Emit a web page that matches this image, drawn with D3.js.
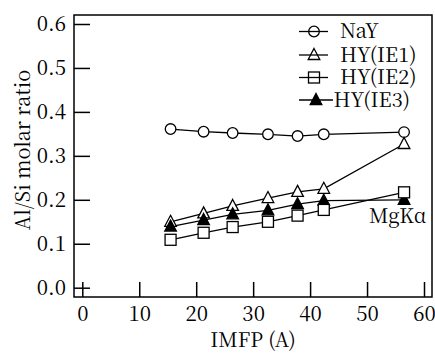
<!DOCTYPE html>
<html><head><meta charset="utf-8">
<script src="https://cdn.jsdelivr.net/npm/d3@7"></script>
<style>body{margin:0;background:#fff}svg{display:block}</style>
</head><body><svg id="c" width="435" height="354"></svg>
<script>
const imfp = [15.5, 21.3, 26.4, 32.6, 37.8, 42.4, 56.5];
const nay  = [0.361, 0.355, 0.352, 0.349, 0.345, 0.349, 0.354];
const ie1  = [0.150, 0.169, 0.186, 0.204, 0.218, 0.225, 0.327];
const ie2  = [0.109, 0.125, 0.138, 0.150, 0.164, 0.177, 0.217];
const ie3  = [0.139, 0.154, 0.167, 0.176, 0.190, 0.198, 0.200];
const seriesNames = ["NaY", "HY(IE1)", "HY(IE2)", "HY(IE3)"];
const xTicks = [0, 10, 20, 30, 40, 50, 60];
const yTicks = [0.0, 0.1, 0.2, 0.3, 0.4, 0.5, 0.6];

const FONT = "'Noto Serif CJK SC', 'Liberation Serif', serif";
const FS = 20, TFS = 20.5;
const svg = d3.select("#c").attr("font-family", FONT);
const L = 74, R = 432, T = 15, B = 297;
const x = d3.scaleLinear().domain([0, 60]).range([82.3, 424]);
const y = d3.scaleLinear().domain([0, 0.6]).range([287.7, 24]);

// frame
svg.append("rect").attr("x", L).attr("y", T).attr("width", R - L).attr("height", B - T)
  .attr("fill", "none").attr("stroke", "#000").attr("stroke-width", 1.5);

// axes (inward ticks)
const xAxis = d3.axisBottom(x).tickValues(xTicks).tickSize(-15).tickPadding(26).tickFormat(d3.format("d"));
const gx = svg.append("g").attr("transform", `translate(0,${B})`).call(xAxis);
gx.attr("font-family", FONT);
gx.select(".domain").remove();
gx.selectAll("line").attr("stroke", "#000").attr("stroke-width", 1.5);
gx.selectAll("text").attr("font-size", TFS).attr("dy", 0).attr("y", 24).attr("fill", "#000");

const yAxis = d3.axisLeft(y).tickValues(yTicks).tickSize(-16).tickPadding(9).tickFormat(d3.format(".1f"));
const gy = svg.append("g").attr("transform", `translate(${L},0)`).call(yAxis);
gy.attr("font-family", FONT);
gy.select(".domain").remove();
gy.selectAll("line").attr("stroke", "#000").attr("stroke-width", 1.5);
gy.selectAll("text").attr("font-size", TFS).attr("x", -8).attr("dy", "0.34em").attr("fill", "#000");

// axis titles
svg.append("text").attr("x", 253).attr("y", 347).attr("text-anchor", "middle").attr("font-size", FS).text("IMFP (A)");
svg.append("text").attr("transform", "translate(30,150) rotate(-90)").attr("text-anchor", "middle").attr("font-size", FS).text("Al/Si molar ratio");

const line = d3.line().x(d => x(d[0])).y(d => y(d[1]));
const data = [nay, ie1, ie2, ie3].map(v => imfp.map((xv, i) => [xv, v[i]]));
const types = ["circle", "tri", "square", "ftri"];

function marker(g, type, cx, cy, fillBg) {
  const bg = fillBg ? "#fff" : "none";
  if (type === "circle") {
    g.append("circle").attr("cx", cx).attr("cy", cy).attr("r", 5.3).attr("fill", bg).attr("stroke", "#000").attr("stroke-width", 1.3);
  } else if (type === "square") {
    g.append("rect").attr("x", cx - 5.5).attr("y", cy - 5.5).attr("width", 11).attr("height", 11).attr("fill", bg).attr("stroke", "#000").attr("stroke-width", 1.3);
  } else {
    const p = [[cx, cy - 6.5], [cx + 5.8, cy + 4.5], [cx - 5.8, cy + 4.5]];
    g.append("path").attr("d", "M" + p.join("L") + "Z").attr("fill", type === "ftri" ? "#000" : bg).attr("stroke", "#000").attr("stroke-width", 1.3);
  }
}

const drawOrder = [0, 1, 3, 2];
drawOrder.forEach(k => {
  svg.append("path").datum(data[k]).attr("d", line).attr("fill", "none").attr("stroke", "#000").attr("stroke-width", 1.3);
});
drawOrder.forEach(k => {
  const g = svg.append("g");
  data[k].forEach(d => marker(g, types[k], x(d[0]), y(d[1]), true));
});

// legend
const legY = [31.5, 55, 77.5, 100];
seriesNames.forEach((name, i) => {
  const g = svg.append("g");
  const x1 = 299, x2 = i === 3 ? 333 : 328, mx = i === 3 ? 316 : 314;
  g.append("line").attr("x1", x1).attr("x2", x2).attr("y1", legY[i]).attr("y2", legY[i]).attr("stroke", "#000").attr("stroke-width", 1.3);
  marker(g, types[i], mx, legY[i], false);
  g.append("text").attr("x", i === 3 ? 333.5 : 340).attr("y", legY[i] + 6.5).attr("font-size", FS).text(name);
});

svg.append("text").attr("x", 369).attr("y", 223).attr("font-size", FS).text("MgKα");
</script></body></html>
